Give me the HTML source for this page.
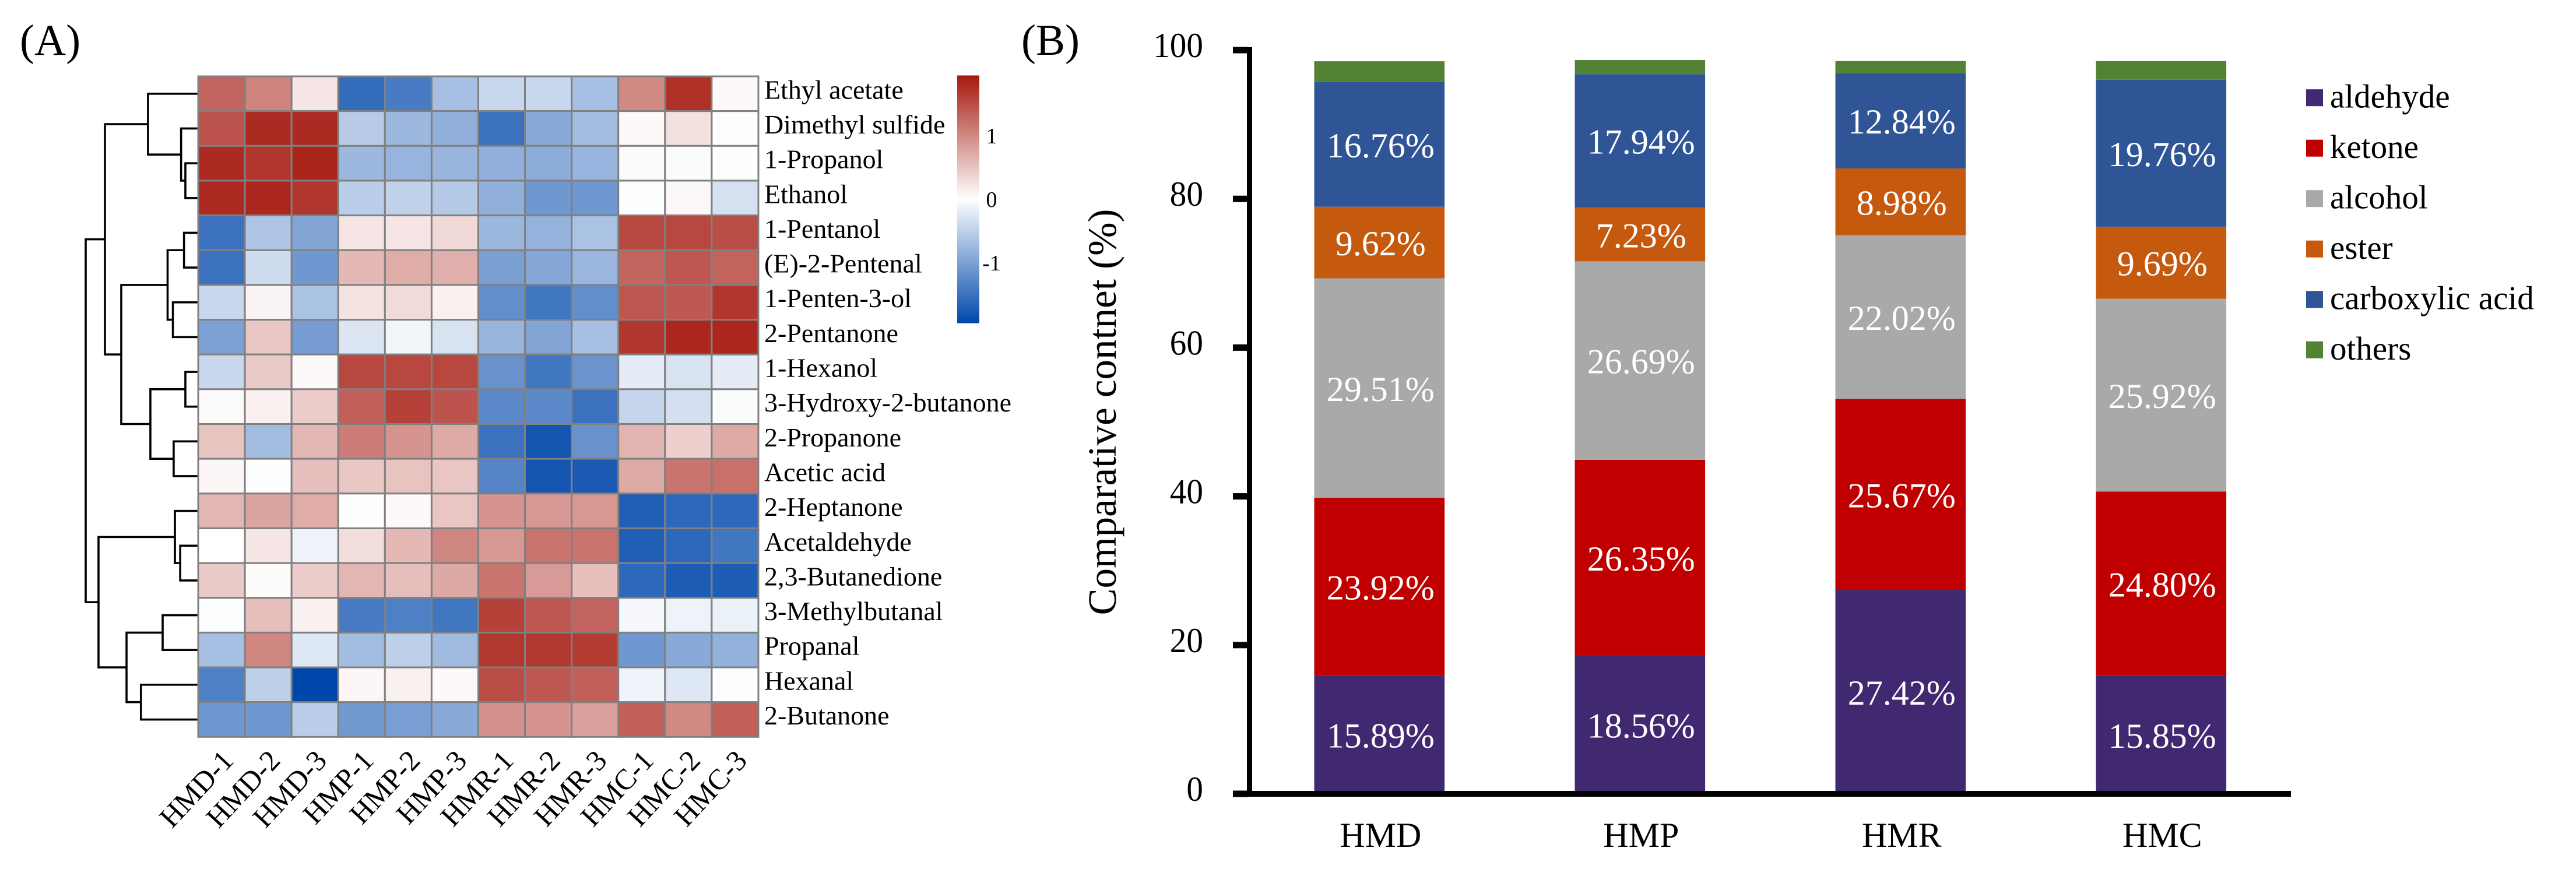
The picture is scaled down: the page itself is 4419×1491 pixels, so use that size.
<!DOCTYPE html>
<html lang="en">
<head>
<meta charset="utf-8">
<title>Heatmap and stacked bar chart of volatile compounds</title>
<style>
html,body{margin:0;padding:0;background:#fff;}
svg{display:block;}
text{font-family:"Liberation Serif",serif;fill:#000;}
</style>
</head>
<body>
<svg id="figure" xmlns="http://www.w3.org/2000/svg" width="4419" height="1491" viewBox="0 0 4419 1491">
  <rect x="0" y="0" width="4419" height="1491" fill="#ffffff"/>
  <text x="34" y="94" font-size="75">(A)</text>
  <text x="1752" y="94" font-size="75">(B)</text>
  <text transform="translate(1914,707) rotate(-90)" text-anchor="middle" font-size="69" textLength="697" lengthAdjust="spacingAndGlyphs">Comparative contnet (%)</text>
  <g id="dendrogram"></g>
  <g id="heatmap"></g>
  <g id="row-labels"></g>
  <g id="col-labels"></g>
  <g id="colorbar"></g>
  <g id="bars"></g>
  <g id="axes"></g>
  <g id="legend"></g>
</svg>
<script>
// ---------- Panel A data ----------
const heatCols = ['HMD-1','HMD-2','HMD-3','HMP-1','HMP-2','HMP-3','HMR-1','HMR-2','HMR-3','HMC-1','HMC-2','HMC-3'];
const heatRows = ['Ethyl acetate','Dimethyl sulfide','1-Propanol','Ethanol','1-Pentanol','(E)-2-Pentenal','1-Penten-3-ol','2-Pentanone','1-Hexanol','3-Hydroxy-2-butanone','2-Propanone','Acetic acid','2-Heptanone','Acetaldehyde','2,3-Butanedione','3-Methylbutanal','Propanal','Hexanal','2-Butanone'];
const heatValues = [
  [1.3,1.05,.2,-1.55,-1.4,-.68,-.42,-.42,-.68,1.0,1.75,.05],
  [1.45,1.8,1.8,-.55,-.75,-.85,-1.5,-.9,-.7,.05,.25,.02],
  [1.8,1.7,1.85,-.75,-.8,-.78,-.85,-.88,-.8,-.04,-.03,-.01],
  [1.8,1.82,1.7,-.52,-.48,-.57,-.85,-1.1,-1.1,-.02,.06,-.32],
  [-1.5,-.63,-.95,.22,.22,.32,-.76,-.82,-.65,1.55,1.55,1.5],
  [-1.5,-.37,-1.1,.6,.7,.68,-1.02,-.93,-.77,1.3,1.42,1.32],
  [-.43,.1,-.65,.24,.3,.12,-1.2,-1.45,-1.2,1.42,1.4,1.7],
  [-1.0,.48,-1.05,-.27,-.1,-.3,-.78,-.95,-.68,1.7,1.82,1.82],
  [-.42,.45,.05,1.55,1.55,1.55,-1.15,-1.45,-1.13,-.2,-.3,-.2],
  [.03,.13,.42,1.35,1.6,1.45,-1.25,-1.25,-1.5,-.45,-.33,-.03],
  [.5,-.7,.62,1.1,.9,.72,-1.5,-1.8,-1.15,.63,.4,.72],
  [.07,-.02,.55,.47,.5,.48,-1.3,-1.8,-1.75,.72,1.17,1.2],
  [.62,.77,.7,.01,.05,.48,.9,.87,.87,-1.7,-1.6,-1.6],
  [0,.22,-.12,.28,.6,1.03,.87,1.17,1.17,-1.7,-1.6,-1.45],
  [.45,.03,.43,.62,.55,.73,1.17,.85,.53,-1.6,-1.72,-1.72],
  [-.02,.55,.12,-1.4,-1.35,-1.45,1.6,1.42,1.3,-.08,-.13,-.15],
  [-.68,1.02,-.25,-.7,-.5,-.72,1.68,1.68,1.65,-1.1,-.9,-.83],
  [-1.35,-.5,-1.95,.07,.12,.05,1.5,1.4,1.35,-.13,-.25,-.02],
  [-1.1,-1.1,-.53,-1.08,-1.03,-.9,.92,.9,.8,1.35,1.0,1.35]
];
const colorTicks = [1,0,-1];
// Dendrogram merges: [child A, child B, merge distance]. Ids 0-18 are rows; id 19+ are earlier merges in order.
const dendroMerges = [
  [2,3,11.4],[1,19,15.2],[0,20,44.6],
  [4,5,12.6],[6,7,22.5],[22,23,27.2],
  [8,9,11.4],[10,11,21.8],[25,26,42.5],
  [24,27,68.4],[21,28,82.9],
  [13,14,16],[12,30,20.7],
  [15,16,31.6],[17,18,50.9],[32,33,63.7],
  [31,34,88.6],[29,35,100]
];
// ---------- Panel B data ----------
const barGroups = ['HMD','HMP','HMR','HMC'];
const seriesNames = ['aldehyde','ketone','alcohol','ester','carboxylic acid','others'];
const aldehydeValues = [15.89,18.56,27.42,15.85];
const ketoneValues = [23.92,26.35,25.67,24.80];
const alcoholValues = [29.51,26.69,22.02,25.92];
const esterValues = [9.62,7.23,8.98,9.69];
const carboxylicValues = [16.76,17.94,12.84,19.76];
const othersValues = [2.8,1.9,1.6,2.5];
const yTicks = [0,20,40,60,80,100];
</script>
<script>
const NS = 'http://www.w3.org/2000/svg';
function make(tag, parent, attrs, txt) {
  const el = document.createElementNS(NS, tag);
  for (const k in attrs) el.setAttribute(k, attrs[k]);
  if (txt !== undefined) el.textContent = txt;
  parent.appendChild(el);
  return el;
}
// ---------- Heatmap scales ----------
const hmLeft = 340, hmTop = 131, colW = 80.08, rowH = 59.65;
const hmX = i => hmLeft + colW * i;
const hmY = i => hmTop + rowH * i;
const rowCenter = i => hmY(i) + rowH / 2;
const zMax = 1.95;
const RED = [165, 24, 14], BLUE = [0, 71, 171];
function zColor(v) {
  const t = Math.min(1, Math.abs(v) / zMax);
  const c = v >= 0 ? RED : BLUE;
  return 'rgb(' + c.map(ch => Math.round(255 + (ch - 255) * t)).join(',') + ')';
}
const heatG = document.getElementById('heatmap');
heatValues.forEach((row, r) => {
  row.forEach((v, c) => {
    const cell = make('rect', heatG, {x: hmX(c), y: hmY(r), width: colW, height: rowH, fill: zColor(v), stroke: '#808080', 'stroke-width': 3});
    
    
  });
});
const rowG = document.getElementById('row-labels');
heatRows.forEach((name, r) => {
  const t = make('text', rowG, {x: hmX(12) + 10, y: rowCenter(r) + 8.5, 'font-size': 46}, name);
  
  
});
const colG = document.getElementById('col-labels');
heatCols.forEach((name, c) => {
  const px = hmX(c) + colW / 2 + 23, py = 1307;
  const t = make('text', colG, {transform: 'translate(' + px + ',' + py + ') rotate(-47)', 'text-anchor': 'end', 'font-size': 50}, name);
  
  
});
// ---------- Dendrogram ----------
const dendG = document.getElementById('dendrogram');
const distX = d => hmLeft - d * 1.93;
const nodes = heatRows.map((_, i) => ({x: hmLeft, y: rowCenter(i)}));
dendroMerges.forEach(m => {
  const a = nodes[m[0]], b = nodes[m[1]], x = distX(m[2]);
  const link = make('path', dendG, {d: 'M' + a.x + ' ' + a.y + 'H' + x + 'V' + b.y + 'H' + b.x, fill: 'none', stroke: '#000', 'stroke-width': 3.6, 'stroke-linejoin': 'miter'});
  
  
  nodes.push({x: x, y: (a.y + b.y) / 2});
});
// ---------- Colorbar ----------
const cbG = document.getElementById('colorbar');
const cbY = v => 342 - 109 * v;
const grad = make('linearGradient', cbG, {id: 'cbGrad', x1: 0, y1: 0, x2: 0, y2: 1});
make('stop', grad, {offset: 0, 'stop-color': zColor(zMax)});
make('stop', grad, {offset: 0.5, 'stop-color': zColor(0)});
make('stop', grad, {offset: 1, 'stop-color': zColor(-zMax)});
const cbRect = make('rect', cbG, {x: 1642, y: cbY(zMax), width: 38, height: cbY(-zMax) - cbY(zMax), fill: 'url(#cbGrad)'});


colorTicks.forEach(v => {
  const t = make('text', cbG, {x: 1701, y: cbY(v) + 13, 'text-anchor': 'middle', 'font-size': 38}, String(v));
  
  
});
// ---------- Stacked bars ----------
const seriesValues = [aldehydeValues, ketoneValues, alcoholValues, esterValues, carboxylicValues, othersValues];
const seriesColors = ['#402970', '#c00000', '#a9a9a9', '#c55a0f', '#2f5597', '#548235'];
const yScale = v => 1362 - 12.76 * v;
const barW = 223.6;
const barLeft = i => 2254.5 + 447 * i;
const barsG = document.getElementById('bars');
barGroups.forEach((g, i) => {
  let acc = 0;
  seriesValues.forEach((vals, s) => {
    const v = vals[i];
    const yTop = yScale(acc + v), yBot = yScale(acc);
    const seg = make('rect', barsG, {x: barLeft(i), y: yTop, width: barW, height: yBot - yTop, fill: seriesColors[s]});
    
    
    if (s < 5) {
      const lab = make('text', barsG, {x: barLeft(i) + barW / 2 + 2, y: (yTop + yBot) / 2 + 22, 'text-anchor': 'middle', 'font-size': 60, style: 'fill:#fff'}, v.toFixed(2) + '%');
      
      
    }
    acc += v;
  });
});
// ---------- Axes ----------
const axG = document.getElementById('axes');
const yLine = make('rect', axG, {x: 2139, y: yScale(100) - 5, width: 9, height: yScale(0) - yScale(100) + 5, fill: '#000'});


const xLine = make('rect', axG, {x: 2115, y: yScale(0) - 5, width: 1815, height: 10, fill: '#000'});


yTicks.forEach(v => {
  const tick = make('rect', axG, {x: 2115, y: yScale(v) - 5.5, width: 26, height: 11, fill: '#000'});
  
  
  const lab = make('text', axG, {x: 2064, y: yScale(v) + 12, 'text-anchor': 'end', 'font-size': 60, 'textLength': String(v).length * 28.6, lengthAdjust: 'spacingAndGlyphs'}, String(v));
  
  
});
barGroups.forEach((g, i) => {
  const lab = make('text', axG, {x: barLeft(i) + barW / 2 + 2, y: 1453, 'text-anchor': 'middle', 'font-size': 60}, g);
  
  
});
// ---------- Legend ----------
const legG = document.getElementById('legend');
seriesNames.forEach((name, s) => {
  const cy = 167.7 + 86.5 * s;
  const sw = make('rect', legG, {x: 3956, y: cy - 14.5, width: 29, height: 29, fill: seriesColors[s]});
  
  
  const t = make('text', legG, {x: 3997, y: cy + 17, 'font-size': 57}, name);
  
  
});
</script>
</body>
</html>
